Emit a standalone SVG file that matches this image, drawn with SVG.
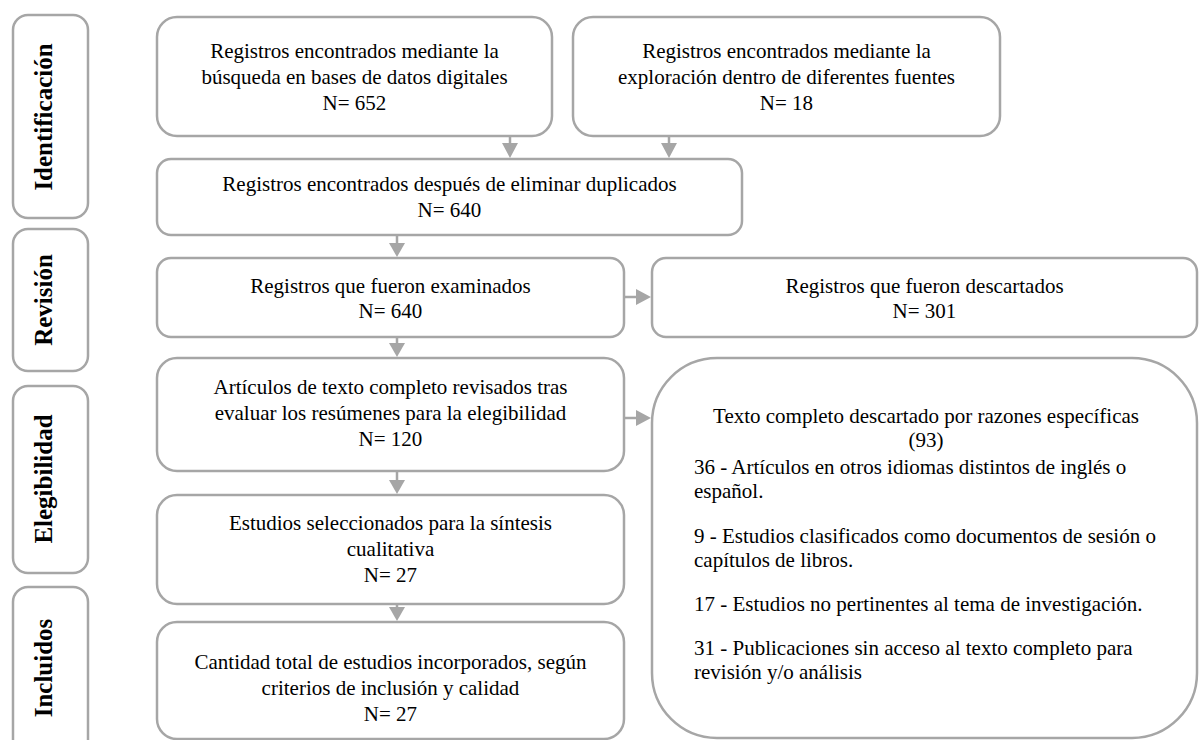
<svg xmlns="http://www.w3.org/2000/svg" width="1199" height="740" viewBox="0 0 1199 740">
<style>
.box{fill:#fff;stroke:#a6a6a6;stroke-width:2.5}
.t{font-family:"Liberation Serif","Times New Roman",serif;font-size:21px;fill:#000}
.c{text-anchor:middle}
.side{font-family:"Liberation Serif","Times New Roman",serif;font-size:25px;font-weight:bold;text-anchor:middle;fill:#000}
.ln{stroke:#a6a6a6;stroke-width:2.5;fill:none}
.ah{fill:#a6a6a6}
</style>
<rect width="1199" height="740" fill="#fff"/>
<g id="stage-identificacion"><rect class="box" x="13" y="15" width="75" height="203" rx="15"/><text class="side" transform="translate(52,117) rotate(-90)">Identificación</text></g>
<g id="stage-revision"><rect class="box" x="13" y="229" width="75" height="142" rx="15"/><text class="side" transform="translate(52,300) rotate(-90)">Revisión</text></g>
<g id="stage-elegibilidad"><rect class="box" x="13" y="386" width="75" height="187" rx="15"/><text class="side" transform="translate(52,479) rotate(-90)">Elegibilidad</text></g>
<g id="stage-incluidos"><rect class="box" x="13" y="587" width="75" height="180" rx="15"/><text class="side" transform="translate(52,668) rotate(-90)">Incluidos</text></g>

<g id="node-a"><rect class="box" x="157" y="17" width="395" height="119" rx="20"/>
<text class="t c" x="354.5" y="57.5">Registros encontrados mediante la</text>
<text class="t c" x="354.5" y="83.5">búsqueda en bases de datos digitales</text>
<text class="t c" x="354.5" y="109.5">N= 652</text></g>
<g id="node-b"><rect class="box" x="573" y="17" width="427" height="119" rx="20"/>
<text class="t c" x="786.5" y="57.5">Registros encontrados mediante la</text>
<text class="t c" x="786.5" y="83.5">exploración dentro de diferentes fuentes</text>
<text class="t c" x="786.5" y="109.5">N= 18</text></g>
<g id="node-c"><rect class="box" x="157" y="159" width="585" height="76" rx="14"/>
<text class="t c" x="449.5" y="191">Registros encontrados después de eliminar duplicados</text>
<text class="t c" x="449.5" y="217">N= 640</text></g>
<g id="node-d"><rect class="box" x="157" y="258" width="467" height="79" rx="14"/>
<text class="t c" x="390.5" y="293">Registros que fueron examinados</text>
<text class="t c" x="390.5" y="318">N= 640</text></g>
<g id="node-e"><rect class="box" x="652" y="258" width="545" height="79" rx="14"/>
<text class="t c" x="924.5" y="293">Registros que fueron descartados</text>
<text class="t c" x="924.5" y="318">N= 301</text></g>
<g id="node-f"><rect class="box" x="157" y="358" width="467" height="113" rx="20"/>
<text class="t c" x="390.5" y="394">Artículos de texto completo revisados tras</text>
<text class="t c" x="390.5" y="420">evaluar los resúmenes para la elegibilidad</text>
<text class="t c" x="390.5" y="446">N= 120</text></g>
<g id="node-g"><rect class="box" x="157" y="495" width="467" height="109" rx="20"/>
<text class="t c" x="390.5" y="530">Estudios seleccionados para la síntesis</text>
<text class="t c" x="390.5" y="556">cualitativa</text>
<text class="t c" x="390.5" y="582">N= 27</text></g>
<g id="node-h"><rect class="box" x="157" y="622" width="467" height="117" rx="20"/>
<text class="t c" x="390.5" y="669">Cantidad total de estudios incorporados, según</text>
<text class="t c" x="390.5" y="695">criterios de inclusión y calidad</text>
<text class="t c" x="390.5" y="721">N= 27</text></g>
<g id="node-i"><rect class="box" x="652" y="358" width="545" height="380" rx="65"/>
<text class="t c" x="926" y="423">Texto completo descartado por razones específicas</text>
<text class="t c" x="926" y="447">(93)</text>
<text class="t" x="694" y="474">36 - Artículos en otros idiomas distintos de inglés o</text>
<text class="t" x="694" y="498">español.</text>
<text class="t" x="694" y="543">9 - Estudios clasificados como documentos de sesión o</text>
<text class="t" x="694" y="567">capítulos de libros.</text>
<text class="t" x="694" y="611">17 - Estudios no pertinentes al tema de investigación.</text>
<text class="t" x="694" y="655">31 - Publicaciones sin acceso al texto completo para</text>
<text class="t" x="694" y="679">revisión y/o análisis</text></g>

<g id="connectors">
<line class="ln" x1="510" y1="136" x2="510" y2="146"/><polygon class="ah" points="502,143 518,143 510,158"/>
<line class="ln" x1="669" y1="136" x2="669" y2="146"/><polygon class="ah" points="661,143 677,143 669,158"/>
<line class="ln" x1="397" y1="235" x2="397" y2="246"/><polygon class="ah" points="389,243 405,243 397,257"/>
<line class="ln" x1="397" y1="337" x2="397" y2="346"/><polygon class="ah" points="389,343 405,343 397,357"/>
<line class="ln" x1="397" y1="471" x2="397" y2="483"/><polygon class="ah" points="389,480 405,480 397,494"/>
<line class="ln" x1="397" y1="604" x2="397" y2="611"/><polygon class="ah" points="389,607 405,607 397,621"/>
<line class="ln" x1="624" y1="297" x2="640" y2="297"/><polygon class="ah" points="636,289 636,305 651,297"/>
<line class="ln" x1="624" y1="418" x2="640" y2="418"/><polygon class="ah" points="636,410 636,426 651,418"/>
</g>
</svg>
